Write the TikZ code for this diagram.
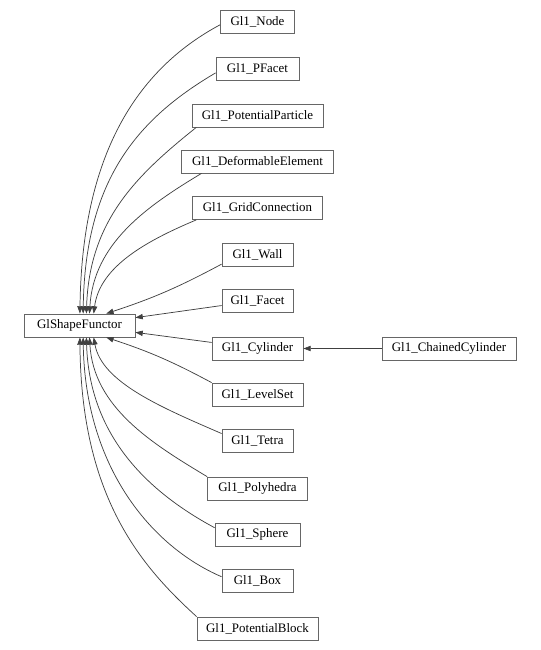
\documentclass[tikz,border=0pt]{standalone}
\usepackage{fontspec}
\setmainfont{Liberation Serif}
\usetikzlibrary{arrows.meta}
\definecolor{boxgray}{HTML}{666666}
\definecolor{edgegray}{HTML}{404040}
\tikzset{
    cls/.style={draw=boxgray, line width=0.6pt, minimum height=17.25pt, inner sep=0pt, font=\fontsize{9.7}{12}\selectfont},
    inherit/.style={draw=edgegray, line width=0.55pt, -{Triangle[length=5.5pt,width=4pt]}}
}
\begin{document}
\begin{tikzpicture}[x=0.75pt,y=-0.75pt]
            \useasboundingbox (0,0) rectangle (541,650);

            % Draw the base class
            \node[cls, minimum width=83.25pt] (base) at (79.5,325.5) {GlShapeFunctor};

            % Draw the derived classes
            \node[cls, minimum width=55.5pt] (gnode) at (257.5,21.5) {Gl1\_Node};
            \node[cls, minimum width=62.25pt] (pfacet) at (257.5,68.5) {Gl1\_PFacet};
            \node[cls, minimum width=98.25pt] (ppart) at (257.5,115.5) {Gl1\_PotentialParticle};
            \node[cls, minimum width=114pt] (deform) at (257.5,161.5) {Gl1\_DeformableElement};
            \node[cls, minimum width=97.5pt] (grid) at (257.5,208) {Gl1\_GridConnection};
            \node[cls, minimum width=53.25pt] (wall) at (257.5,254.5) {Gl1\_Wall};
            \node[cls, minimum width=53.25pt] (facet) at (257.5,300.5) {Gl1\_Facet};
            \node[cls, minimum width=68.25pt] (cyl) at (257.5,348.5) {Gl1\_Cylinder};
            \node[cls, minimum width=68.25pt] (levelset) at (257.5,394.5) {Gl1\_LevelSet};
            \node[cls, minimum width=53.25pt] (tetra) at (257.5,440.5) {Gl1\_Tetra};
            \node[cls, minimum width=75pt] (poly) at (257.5,488.5) {Gl1\_Polyhedra};
            \node[cls, minimum width=63.75pt] (sphere) at (257.5,534.5) {Gl1\_Sphere};
            \node[cls, minimum width=53.25pt] (box) at (257.5,580.5) {Gl1\_Box};
            \node[cls, minimum width=90.75pt] (pblock) at (257.5,628.5) {Gl1\_PotentialBlock};
            \node[cls, minimum width=100.5pt] (chained) at (449,348.5) {Gl1\_ChainedCylinder};

            % Draw the edges above the base class
            \draw[inherit] (gnode.185) .. controls +(-84,45) and +(2,-158) .. (base.88);
            \draw[inherit] (pfacet.186) .. controls +(-80,47) and +(2,-132) .. (base.73);
            \draw[inherit] (ppart.191) .. controls +(-60,48) and +(3,-93) .. (base.60);
            \draw[inherit] (deform.192) .. controls +(-55,33) and +(4,-70) .. (base.50);
            \draw[inherit] (grid.191) .. controls +(-50,21) and +(6,-47) .. (base.40);
            \draw[inherit] (wall.195) to[bend left=5] (base.24);
            \draw[inherit] (facet) -- (base.8);

            % Draw the edges below the base class
            \draw[inherit] (cyl) -- (base.-7);
            \draw[inherit] (levelset.north west) to[bend right=5] (base.-24);
            \draw[inherit] (tetra.169) .. controls +(-60,-26) and +(8,45) .. (base.-40);
            \draw[inherit] (poly.north west) .. controls +(-55,-33) and +(4,70) .. (base.-50);
            \draw[inherit] (sphere.171) .. controls +(-65,-35) and +(3,100) .. (base.-60);
            \draw[inherit] (box.174) .. controls +(-70,-30) and +(2,130) .. (base.-73);
            \draw[inherit] (pblock.north west) .. controls +(-55,-50) and +(1,160) .. (base.-88);

            \draw[inherit] (chained) -- (cyl);
        \end{tikzpicture}
\end{document}
